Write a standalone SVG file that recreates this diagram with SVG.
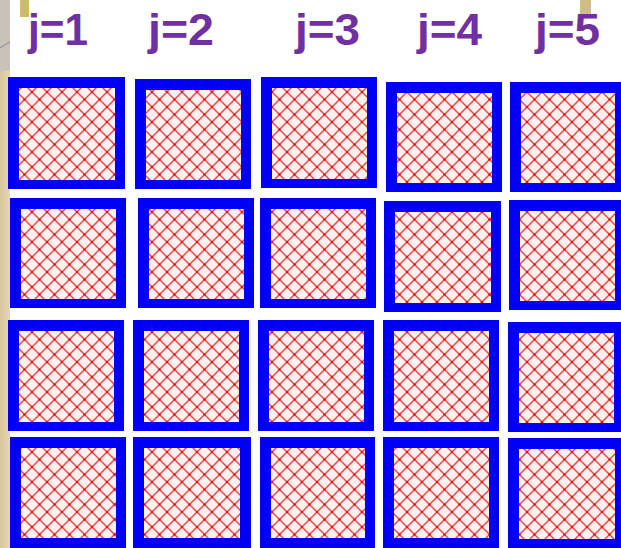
<svg xmlns="http://www.w3.org/2000/svg" width="621" height="548" viewBox="0 0 621 548">
  <defs>
    <pattern id="hatch" patternUnits="userSpaceOnUse" width="15" height="15" x="2" y="2">
      <rect width="15" height="15" fill="#fff0f0"/>
      <path d="M0,0 L15,15 M15,0 L0,15 M-1,14 L1,16 M14,-1 L16,1" stroke="#ec4a4a" stroke-width="1.5" fill="none"/>
      <g fill="#d81818">
        <circle cx="7.5" cy="7.5" r="1.2"/>
        <circle cx="0" cy="0" r="1.2"/>
        <circle cx="15" cy="0" r="1.2"/>
        <circle cx="0" cy="15" r="1.2"/>
        <circle cx="15" cy="15" r="1.2"/>
      </g>
    </pattern>
    <linearGradient id="beige" x1="0" y1="0" x2="1" y2="0">
      <stop offset="0" stop-color="#d8c49a"/>
      <stop offset="1" stop-color="#e6d7b4"/>
    </linearGradient>
  </defs>
  <style>
    .outer { fill: #0000f5; }
    .inner { fill: url(#hatch); }
    .lbl { font-family: "Liberation Sans", "DejaVu Sans", sans-serif; font-weight: bold; font-size: 44px; fill: #7030a0; }
  </style>

  <rect width="621" height="548" fill="#ffffff"/>
  <rect x="0" y="0" width="10" height="548" fill="url(#beige)"/>
  <path d="M0,0 L10,0 L10,70 L0,72 Z" fill="#c9c2b8"/>
  <path d="M0,48 Q6,44 10,42" stroke="#9a93a8" stroke-width="1.2" fill="none"/>
  <rect x="20" y="0" width="9" height="17" fill="#cdbb6a"/>
  <rect x="580" y="0" width="11" height="17" fill="#c8b070" opacity="0.85"/>

  <g id="labels">
    <text class="lbl" x="28" y="45" textLength="60" lengthAdjust="spacingAndGlyphs">j=1</text>
    <text class="lbl" x="148" y="45" textLength="66" lengthAdjust="spacingAndGlyphs">j=2</text>
    <text class="lbl" x="295" y="45" textLength="65" lengthAdjust="spacingAndGlyphs">j=3</text>
    <text class="lbl" x="417" y="45" textLength="65" lengthAdjust="spacingAndGlyphs">j=4</text>
    <text class="lbl" x="535" y="45" textLength="65" lengthAdjust="spacingAndGlyphs">j=5</text>
  </g>

  <g id="cell-1-1"><rect class="outer" x="8" y="77" width="117" height="112"/><rect class="inner" x="19" y="88" width="96" height="92"/></g>
  <g id="cell-1-2"><rect class="outer" x="135" y="79" width="116" height="110"/><rect class="inner" x="146" y="90" width="95" height="90"/></g>
  <g id="cell-1-3"><rect class="outer" x="261" y="77" width="116" height="111"/><rect class="inner" x="272" y="88" width="95" height="91"/></g>
  <g id="cell-1-4"><rect class="outer" x="386" y="82" width="116" height="110"/><rect class="inner" x="397" y="93" width="95" height="90"/></g>
  <g id="cell-1-5"><rect class="outer" x="510" y="82" width="116" height="110"/><rect class="inner" x="521" y="93" width="94" height="90"/></g>

  <g id="cell-2-1"><rect class="outer" x="10" y="198" width="116" height="110"/><rect class="inner" x="21" y="209" width="95" height="90"/></g>
  <g id="cell-2-2"><rect class="outer" x="138" y="198" width="116" height="110"/><rect class="inner" x="149" y="209" width="95" height="90"/></g>
  <g id="cell-2-3"><rect class="outer" x="260" y="198" width="116" height="110"/><rect class="inner" x="271" y="209" width="95" height="90"/></g>
  <g id="cell-2-4"><rect class="outer" x="384" y="201" width="117" height="111"/><rect class="inner" x="395" y="212" width="96" height="91"/></g>
  <g id="cell-2-5"><rect class="outer" x="509" y="200" width="117" height="110"/><rect class="inner" x="520" y="211" width="95" height="90"/></g>

  <g id="cell-3-1"><rect class="outer" x="8" y="320" width="116" height="111"/><rect class="inner" x="19" y="331" width="95" height="91"/></g>
  <g id="cell-3-2"><rect class="outer" x="133" y="320" width="116" height="111"/><rect class="inner" x="144" y="331" width="95" height="91"/></g>
  <g id="cell-3-3"><rect class="outer" x="258" y="320" width="116" height="111"/><rect class="inner" x="269" y="331" width="95" height="91"/></g>
  <g id="cell-3-4"><rect class="outer" x="383" y="320" width="116" height="111"/><rect class="inner" x="394" y="331" width="95" height="91"/></g>
  <g id="cell-3-5"><rect class="outer" x="508" y="322" width="116" height="110"/><rect class="inner" x="519" y="333" width="95" height="90"/></g>

  <g id="cell-4-1"><rect class="outer" x="10" y="437" width="116" height="112"/><rect class="inner" x="21" y="448" width="95" height="90"/></g>
  <g id="cell-4-2"><rect class="outer" x="133" y="437" width="118" height="112"/><rect class="inner" x="144" y="448" width="96" height="90"/></g>
  <g id="cell-4-3"><rect class="outer" x="260" y="437" width="115" height="112"/><rect class="inner" x="271" y="448" width="94" height="90"/></g>
  <g id="cell-4-4"><rect class="outer" x="383" y="437" width="116" height="112"/><rect class="inner" x="394" y="448" width="95" height="90"/></g>
  <g id="cell-4-5"><rect class="outer" x="508" y="438" width="118" height="112"/><rect class="inner" x="519" y="449" width="96" height="90"/></g>

  <g id="connectors"/>
</svg>
